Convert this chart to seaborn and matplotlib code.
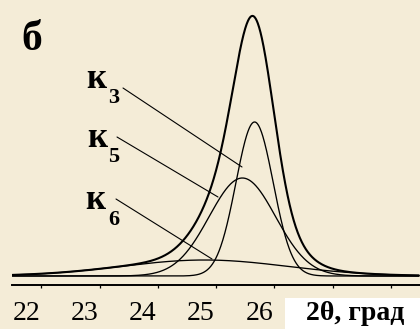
import numpy as np
import pandas as pd
import matplotlib
matplotlib.use("Agg")
import matplotlib.pyplot as plt
import seaborn as sns
from matplotlib.patches import Rectangle

# ---- data ----
peak_names = ["к3", "к5", "к6"]
peak_subs = ["3", "5", "6"]
peak_centers = [26.16, 25.95, 25.30]      # 2θ, deg
peak_heights = [154.0, 98.0, 16.0]        # arbitrary intensity units
peak_sigmas = [0.32, 0.57, 1.42]          # Gaussian widths, deg
tick_values = [22, 23, 24, 25, 26]
tick_labels = ["22", "23", "24", "25", "26"]
x_label = "2θ, град"
panel_label = "б"

BG = "#F4ECD7"

sns.set_theme(style="white")
plt.rcParams["font.family"] = ["Liberation Serif", "DejaVu Serif"]

fig = plt.figure(figsize=(4.2, 3.29), dpi=100, facecolor=BG)
W, H = 420, 329
ax = fig.add_axes([12.3 / W, (H - 285) / H, 1 - 12.3 / W, 285 / H])
ax.set_facecolor(BG)

x = np.linspace(22.0, 28.98, 1200)
rows = []
total = np.zeros_like(x)
for name, c, h, s in zip(peak_names, peak_centers, peak_heights, peak_sigmas):
    y = h * np.exp(-0.5 * ((x - c) / s) ** 2)
    total += y
    rows.append(pd.DataFrame({"2θ": x, "I": y, "curve": name}))
comp = pd.concat(rows, ignore_index=True)
sumdf = pd.DataFrame({"2θ": x, "I": total})

for name in peak_names:
    sns.lineplot(data=comp[comp["curve"] == name], x="2θ", y="I", ax=ax,
                 color="black", linewidth=0.95, legend=False)
sns.lineplot(data=sumdf, x="2θ", y="I", ax=ax, color="black", linewidth=1.5,
             legend=False)

ax.set_xlim(22.0, 28.98)
ax.set_ylim(-9, 276)
ax.set_xlabel("")
ax.set_ylabel("")
for sp in ["top", "left", "right"]:
    ax.spines[sp].set_visible(False)
ax.spines["bottom"].set_linewidth(1.4)
ax.spines["bottom"].set_color("black")
ax.set_yticks([])
ax.set_xticks(list(range(22, 30)))
ax.set_xticklabels(tick_labels + [""] * 3)
ax.set_xticks(np.arange(22.5, 29, 1.0), minor=True)
ax.tick_params(axis="x", which="major", direction="out", length=4.5, width=0.9,
               color="black", labelsize=20, pad=7, labelcolor="black")
ax.tick_params(axis="x", which="minor", direction="out", length=2.3, width=0.9,
               color="black", bottom=True)
for lab in ax.get_xticklabels():
    lab.set_horizontalalignment("left")

# white box with axis title
fig.patches.append(Rectangle((285 / W, 0), (W - 285) / W, (H - 298) / H,
                             transform=fig.transFigure, facecolor="white",
                             edgecolor="none", zorder=5))
fig.text(355 / W, (H - 314) / H, x_label, ha="center", va="center",
         fontsize=20, fontweight="bold", color="black", zorder=6)

# panel label
fig.text(32 / W, (H - 40) / H, panel_label, ha="center", va="center",
         fontsize=30, fontweight="bold", color="black")


def px(xp, yp):
    return (xp / W, (H - yp) / H)


# peak labels with leader lines
label_k = [(86, 88), (87, 147), (85, 209)]
label_sub = [(108, 103), (108, 162), (108, 225)]
leader = [((123, 88), (242, 167)), ((117, 137), (218, 197)), ((116, 199), (212, 259))]
for sub, kp, sp, (p0, p1) in zip(peak_subs, label_k, label_sub, leader):
    fig.text(*px(*kp), "к", ha="left", va="baseline", fontsize=25,
             fontweight="bold", color="black")
    fig.text(*px(*sp), sub, ha="left", va="baseline", fontsize=16,
             fontweight="bold", color="black")
    fig.add_artist(plt.Line2D([p0[0] / W, p1[0] / W],
                              [(H - p0[1]) / H, (H - p1[1]) / H],
                              transform=fig.transFigure, color="black",
                              linewidth=0.8))

fig.savefig("out.png", dpi=100, facecolor=BG)
